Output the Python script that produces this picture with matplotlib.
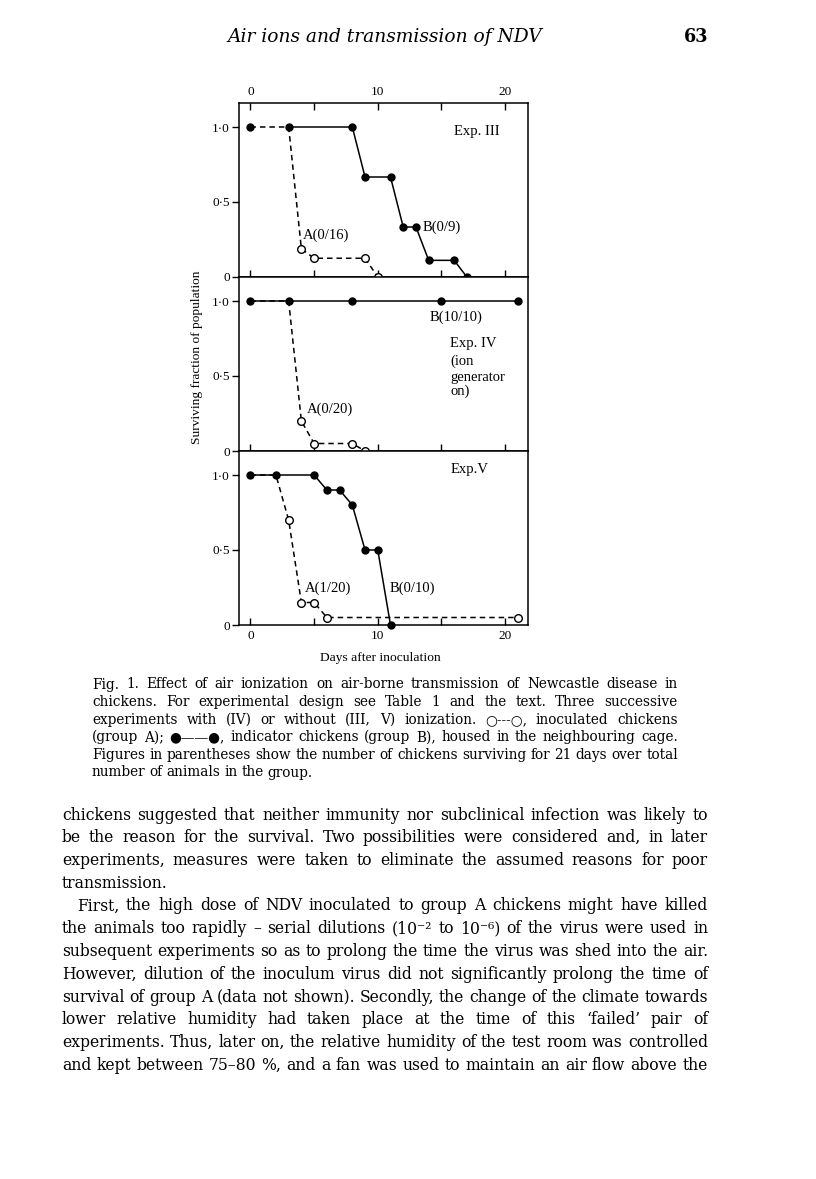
import numpy as np
import matplotlib.pyplot as plt

W, H = 816, 1179
fig = plt.figure(figsize=(W / 100, H / 100), dpi=100)
fig.patch.set_facecolor('white')

# --- data (day, surviving fraction) ---
exp3_a_day = [0, 3, 4, 5, 9, 10]
exp3_a_frac = [1.0, 1.0, 3 / 16, 2 / 16, 2 / 16, 0.0]
exp3_b_day = [0, 3, 8, 9, 11, 12, 13, 14, 16, 17]
exp3_b_frac = [1.0, 1.0, 1.0, 6 / 9, 6 / 9, 3 / 9, 3 / 9, 1 / 9, 1 / 9, 0.0]

exp4_a_day = [0, 3, 4, 5, 8, 9]
exp4_a_frac = [1.0, 1.0, 0.20, 0.05, 0.05, 0.0]
exp4_b_day = [0, 3, 8, 15, 21]
exp4_b_frac = [1.0, 1.0, 1.0, 1.0, 1.0]

exp5_a_day = [0, 2, 3, 4, 5, 6, 21]
exp5_a_frac = [1.0, 1.0, 0.70, 0.15, 0.15, 0.05, 0.05]
exp5_b_day = [0, 2, 5, 6, 7, 8, 9, 10, 11]
exp5_b_frac = [1.0, 1.0, 1.0, 0.9, 0.9, 0.8, 0.5, 0.5, 0.0]

x_ticks = [0, 5, 10, 15, 20]
x_ticklabels = ['0', '', '10', '', '20']
y_ticks = [0, 0.5, 1.0]
y_ticklabels = ['0', '0·5', '1·0']

panels = [
    dict(a=(exp3_a_day, exp3_a_frac), b=(exp3_b_day, exp3_b_frac), b_from=1,
         notes=[('Exp. III', 16.0, 0.97), ('A(0/16)', 4.15, 0.28), ('B(0/9)', 13.5, 0.33)]),
    dict(a=(exp4_a_day, exp4_a_frac), b=(exp4_b_day, exp4_b_frac), b_from=0,
         notes=[('B(10/10)', 14.1, 0.89), ('Exp. IV', 15.7, 0.72), ('(ion', 15.7, 0.60),
                ('generator', 15.7, 0.49), ('on)', 15.7, 0.40), ('A(0/20)', 4.4, 0.28)]),
    dict(a=(exp5_a_day, exp5_a_frac), b=(exp5_b_day, exp5_b_frac), b_from=0,
         notes=[('Exp.V', 15.7, 1.04), ('A(1/20)', 4.3, 0.245), ('B(0/10)', 10.9, 0.245)]),
]

chart_font = 'Liberation Serif'
text_font = ['DejaVu Serif', 'DejaVu Sans']


def box(left, top, right, bottom):
    return [left / W, 1 - bottom / H, (right - left) / W, (bottom - top) / H]


edges = [103, 277, 451, 625]
for i, p in enumerate(panels):
    ax = fig.add_axes(box(239, edges[i], 528, edges[i + 1]))
    ad, af = p['a']
    bd, bf = p['b']
    ax.plot(ad, af, color='k', lw=1.1, ls=(0, (3.6, 2.6)), clip_on=False, zorder=2)
    ax.plot(bd[p['b_from']:], bf[p['b_from']:], color='k', lw=1.1, clip_on=False, zorder=2)
    ax.plot(bd, bf, 'o', color='k', ms=5, clip_on=False, zorder=4)
    ax.plot(ad[2:], af[2:], 'o', mfc='white', mec='k', mew=1, ms=5.5, clip_on=False, zorder=5)
    for txt, x, y in p['notes']:
        ax.text(x, y, txt, ha='left', va='center', fontsize=10.5, family=chart_font)

    ax.set_xlim(-0.9, 21.8)
    ax.set_ylim(0, 1.16)
    ax.set_xticks(x_ticks)
    ax.set_xticklabels(x_ticklabels, family=chart_font, fontsize=9.5)
    ax.set_yticks(y_ticks)
    ax.set_yticklabels(y_ticklabels, family=chart_font, fontsize=9.5)
    ax.tick_params(axis='x', direction='in', length=5, width=1, pad=3.5,
                   top=(i == 0), labeltop=(i == 0), bottom=True, labelbottom=(i == 2))
    ax.tick_params(axis='y', direction='out', length=5, width=1, pad=1.5, right=False)
    for s in ax.spines.values():
        s.set_linewidth(1.1)

fig.text(380 / W, 1 - 658 / H, 'Days after inoculation', ha='center', va='center',
         fontsize=9.7, family=chart_font)
fig.text(197 / W, 1 - 357 / H, 'Surviving fraction of population', rotation=90,
         ha='center', va='center', fontsize=9.6, family=chart_font)

# --- page text ---
rend = fig.canvas.get_renderer()


def width_of(s, **kw):
    t = fig.text(0, 0, s, **kw)
    w = t.get_window_extent(rend).width
    t.remove()
    return w


def fit_size(lines, target, **kw):
    base = 10
    longest = 0
    for line, just in lines:
        if just:
            words = line.split()
            n = sum(width_of(w, fontsize=base, **kw) for w in words)
            n += (len(words) - 1) * base * 0.33
            longest = max(longest, n)
    return base * target / longest * 0.985


def set_line(line, x0, x1, y, just, size, **kw):
    words = line.split()
    widths = [width_of(w, fontsize=size, **kw) for w in words]
    if just and len(words) > 1:
        gap = (x1 - x0 - sum(widths)) / (len(words) - 1)
    else:
        gap = size * 0.40
    x = x0
    for w, wd in zip(words, widths):
        fig.text(x / W, 1 - y / H, w, ha='left', va='baseline', fontsize=size, **kw)
        x += wd + gap


header = 'Air ions and transmission of NDV'
hs = 10 * 314 / width_of(header, fontsize=10, family=text_font, style='italic')
fig.text(385 / W, 1 - 42 / H, header, ha='center', va='baseline', fontsize=hs,
         family=text_font, style='italic')
fig.text(708 / W, 1 - 42 / H, '63', ha='right', va='baseline', fontsize=hs * 0.95,
         family=text_font, weight='bold')

caption = [
    ('Fig. 1. Effect of air ionization on air-borne transmission of Newcastle disease in', True),
    ('chickens. For experimental design see Table 1 and the text. Three successive', True),
    ('experiments with (IV) or without (III, V) ionization. ○---○, inoculated chickens', True),
    ('(group A); ●——●, indicator chickens (group B), housed in the neighbouring cage.', True),
    ('Figures in parentheses show the number of chickens surviving for 21 days over total', True),
    ('number of animals in the group.', False),
]
cs = fit_size(caption, 678 - 92, family=text_font)
for k, (line, just) in enumerate(caption):
    set_line(line, 92, 678, 685 + 17.6 * k + 3.5, just, cs, family=text_font)

body = [
    ('chickens suggested that neither immunity nor subclinical infection was likely to', True, 0),
    ('be the reason for the survival. Two possibilities were considered and, in later', True, 0),
    ('experiments, measures were taken to eliminate the assumed reasons for poor', True, 0),
    ('transmission.', False, 0),
    ('First, the high dose of NDV inoculated to group A chickens might have killed', True, 15),
    ('the animals too rapidly – serial dilutions (10⁻² to 10⁻⁶) of the virus were used in', True, 0),
    ('subsequent experiments so as to prolong the time the virus was shed into the air.', True, 0),
    ('However, dilution of the inoculum virus did not significantly prolong the time of', True, 0),
    ('survival of group A (data not shown). Secondly, the change of the climate towards', True, 0),
    ('lower relative humidity had taken place at the time of this ‘failed’ pair of', True, 0),
    ('experiments. Thus, later on, the relative humidity of the test room was controlled', True, 0),
    ('and kept between 75–80 %, and a fan was used to maintain an air flow above the', True, 0),
]
bs = fit_size([(l, j) for l, j, _ in body], 708 - 62, family=text_font)
for k, (line, just, ind) in enumerate(body):
    set_line(line, 62 + ind, 708, 815 + 22.75 * k + 4.5, just, bs, family=text_font)

fig.savefig('out.png', dpi=100, facecolor='white')
